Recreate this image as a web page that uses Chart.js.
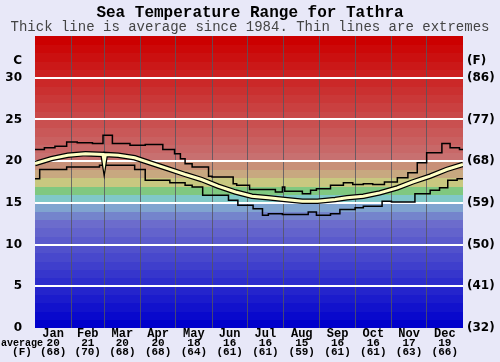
<!DOCTYPE html>
<html><head><meta charset="utf-8">
<script src="https://cdn.jsdelivr.net/npm/chart.js@4"></script>
<style>html,body{margin:0;padding:0;background:#e8e8f8;}canvas{display:block}</style>
</head><body><canvas id="c" width="500" height="362"></canvas>
<script>
const months = ['Jan','Feb','Mar','Apr','May','Jun','Jul','Aug','Sep','Oct','Nov','Dec'];
const monthStarts = [0,31,59,90,120,151,181,212,243,273,304,334,365];
const avgC = [20,21,20,20,18,16,16,15,16,16,17,19];
const avgF = [68,70,68,68,64,61,61,59,61,61,63,66];
const yTicksC = [0,5,10,15,20,25,30];
const yTicksF = ['(32)','(41)','(50)','(59)','(68)','(77)','(86)'];

const maxDays = [0,8,17,27,36,49,58,66,81,94,109,119,124,128,134,148,151,169,172,183,205,211,213,228,235,240,252,263,271,280,288,298,309,318,326,334,347,354,362,365];
const maxVals = [21.4,21.6,21.8,22.3,22.2,22.1,23.1,22.1,21.9,22.0,21.4,20.9,20.3,19.7,19.3,18.2,18.1,17.3,17.1,16.6,16.3,16.9,16.4,16.1,16.5,16.7,17.1,17.4,17.2,17.3,17.2,17.5,18.0,18.6,19.8,21.0,22.1,21.6,21.4,21.4];

const minDays = [0,4,27,55,85,94,115,128,134,143,165,173,186,194,199,211,233,240,252,260,273,280,296,304,324,337,345,352,360,365];
const minVals = [17.9,19.0,19.3,19.5,19.0,17.7,17.4,17.1,16.9,15.9,15.3,14.7,14.3,13.5,13.7,13.6,13.9,13.5,13.7,14.2,14.4,14.6,15.2,15.1,16.1,16.5,16.8,17.7,17.9,17.9];

const avgDays = [0,14,28,43,58,59,60,71,85,100,113,128,142,156,171,185,199,213,228,241,256,266,280,294,309,322,337,351,365];
const avgVals = [19.7,20.3,20.7,20.9,20.8,19.9,20.8,20.7,20.4,19.7,19.1,18.4,17.8,17.0,16.3,15.8,15.6,15.4,15.2,15.2,15.4,15.6,15.8,16.2,16.8,17.5,18.2,19.0,19.6];

const pts = (d, v) => d.map((x, i) => ({x: x, y: v[i]}));

function bandColor(d) {
  const fixed = {13:'#7484cc',14:'#80a4d0',15:'#80c8c8',16:'#80c880',17:'#c8c880',18:'#c8a880',19:'#c89078'};
  if (fixed[d]) return fixed[d];
  if (d <= 12) { const c = Math.round(0x6c * d / 12); return `rgb(${c},${c},204)`; }
  const r = Math.round(200 + 4 * (d - 20) / 14);
  const g = Math.round(0x70 * (34 - d) / 14);
  return `rgb(${r},${g},${g})`;
}

const bgPlugin = {
  id: 'bg',
  beforeDraw(chart) {
    const ctx = chart.ctx, a = chart.chartArea, y = chart.scales.y;
    ctx.save();
    ctx.fillStyle = '#e8e8f8';
    ctx.fillRect(0, 0, chart.width, chart.height);
    for (let d = 0; d < 35; d++) {
      const t = y.getPixelForValue(d + 1), b = y.getPixelForValue(d);
      ctx.fillStyle = bandColor(d);
      ctx.fillRect(a.left, Math.floor(t), a.right - a.left, Math.ceil(b) - Math.floor(t));
    }
    ctx.restore();
  },
  afterDraw(chart) {
    const ctx = chart.ctx, xs = chart.scales.x;
    ctx.save();
    ctx.fillStyle = '#000';
    ctx.textAlign = 'center';
    ctx.textBaseline = 'middle';
    for (let i = 0; i < 12; i++) {
      const x = xs.getPixelForValue((monthStarts[i] + monthStarts[i + 1]) / 2);
      ctx.font = 'bold 12px "Liberation Mono"';
      ctx.fillText(months[i], x, 334);
      ctx.font = 'bold 11px "Liberation Mono"';
      ctx.fillText(String(avgC[i]), x, 343);
      ctx.fillText('(' + avgF[i] + ')', x, 352.5);
    }
    ctx.font = 'bold 10px "Liberation Mono"';
    ctx.fillText('average', 22, 343);
    ctx.font = 'bold 11px "Liberation Mono"';
    ctx.fillText('(F)', 22, 352.5);
    ctx.restore();
  }
};

const yTickList = yTicksC.concat([32]);

new Chart(document.getElementById('c'), {
  type: 'line',
  data: {
    datasets: [
      {data: pts(avgDays, avgVals), borderColor: '#ffffc4', borderWidth: 3, pointRadius: 0, tension: 0},
      {data: pts(avgDays, avgVals), borderColor: '#000', borderWidth: 5.5, pointRadius: 0, tension: 0},
      {data: pts(maxDays, maxVals), borderColor: '#000', borderWidth: 1.5, pointRadius: 0, stepped: true},
      {data: pts(minDays, minVals), borderColor: '#000', borderWidth: 1.5, pointRadius: 0, stepped: true}
    ]
  },
  options: {
    responsive: false,
    devicePixelRatio: 1,
    animation: false,
    layout: {padding: 0},
    plugins: {
      legend: {display: false},
      tooltip: {enabled: false},
      title: {display: true, text: 'Sea Temperature Range for Tathra', color: '#000',
        font: {family: '"Liberation Mono"', size: 16, weight: 'bold', lineHeight: 1}, padding: {top: 5, bottom: 0}},
      subtitle: {display: true, text: 'Thick line is average since 1984. Thin lines are extremes', color: '#444',
        font: {family: '"Liberation Mono"', size: 14, weight: 'normal', lineHeight: 1}, padding: {top: -1, bottom: 2}}
    },
    scales: {
      x: {
        type: 'linear', min: 0, max: 365, position: 'bottom',
        afterBuildTicks: s => { s.ticks = monthStarts.slice(1, 12).map(v => ({value: v})); },
        ticks: {display: false},
        grid: {color: 'rgba(85,85,95,0.8)', lineWidth: 1, drawTicks: false},
        border: {display: false},
        afterFit: s => { s.height = 34; }
      },
      y: {
        type: 'linear', min: 0, max: 35, position: 'left',
        afterBuildTicks: s => { s.ticks = yTickList.map(v => ({value: v})); },
        ticks: {callback: v => v === 32 ? 'C' : String(v), color: '#000', padding: 13,
          font: {family: '"DejaVu Sans"', size: 12, weight: 'bold'}},
        grid: {color: c => (c.tick && (c.tick.value === 32 || c.tick.value === 0)) ? 'rgba(0,0,0,0)' : '#ffffff', lineWidth: 2, drawTicks: false},
        border: {display: false},
        afterFit: s => { s.width = 35; }
      },
      y2: {
        type: 'linear', min: 0, max: 35, position: 'right',
        afterBuildTicks: s => { s.ticks = yTickList.map(v => ({value: v})); },
        ticks: {callback: v => v === 32 ? '(F)' : yTicksF[yTicksC.indexOf(v)], color: '#000', padding: 4,
          font: {family: '"DejaVu Sans"', size: 12, weight: 'bold'}},
        grid: {display: false, drawTicks: false},
        border: {display: false},
        afterFit: s => { s.width = 37; }
      }
    }
  },
  plugins: [bgPlugin]
});
</script>
</body></html>
